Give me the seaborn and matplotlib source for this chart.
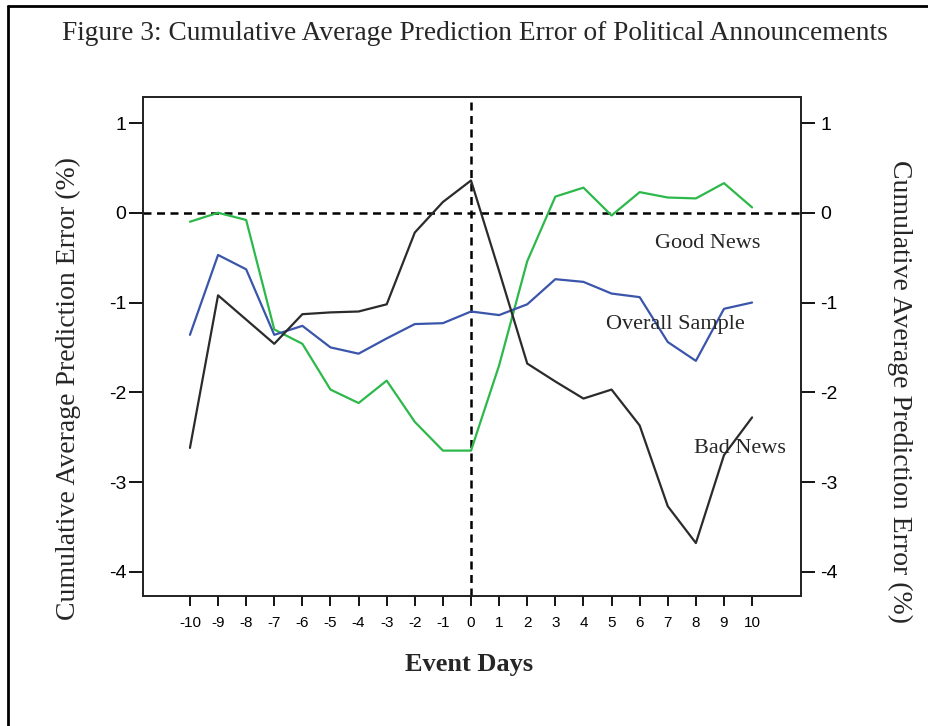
import numpy as np
import pandas as pd
import matplotlib
matplotlib.use("Agg")
import matplotlib.pyplot as plt
from matplotlib.lines import Line2D
import seaborn as sns

# Event window
days = list(range(-10, 11))
day_labels = [str(d) for d in days]

# Cumulative average prediction error (%) by group
good_news = [-0.10, 0.00, -0.08, -1.30, -1.46, -1.97, -2.12, -1.87, -2.33, -2.65, -2.65,
             -1.70, -0.54, 0.18, 0.28, -0.03, 0.23, 0.17, 0.16, 0.33, 0.06]
overall_sample = [-1.36, -0.47, -0.63, -1.36, -1.26, -1.50, -1.57, -1.40, -1.24, -1.23, -1.10,
                  -1.14, -1.02, -0.74, -0.77, -0.90, -0.94, -1.44, -1.65, -1.07, -1.00]
bad_news = [-2.62, -0.92, -1.19, -1.46, -1.13, -1.11, -1.10, -1.02, -0.22, 0.12, 0.36,
            -0.65, -1.68, -1.88, -2.07, -1.97, -2.37, -3.27, -3.68, -2.70, -2.28]

y_ticks = [-4, -3, -2, -1, 0, 1]

groups = ["Good News", "Overall Sample", "Bad News"]
df = pd.DataFrame({
    "day": days * 3,
    "car": good_news + overall_sample + bad_news,
    "group": [g for g in groups for _ in days],
})
palette = {"Good News": "#2db84a", "Overall Sample": "#3a55aa", "Bad News": "#2b2b2b"}

sns.set_style("ticks")
plt.rcParams["font.family"] = ["Liberation Serif", "DejaVu Serif"]

W, H = 929, 726
fig = plt.figure(figsize=(W / 100, H / 100), dpi=100)
ax = fig.add_axes([143 / W, 1 - 596 / H, (801 - 143) / W, (596 - 97) / H])

sns.lineplot(data=df, x="day", y="car", hue="group", palette=palette,
             linewidth=1.6, legend=False, ax=ax)

ax.axhline(0, color="black", linestyle=(0, (3.2, 2.2)), linewidth=1.8, zorder=1)
ax.axvline(0, color="black", linestyle=(0, (3.2, 2.2)), linewidth=1.8, zorder=1)

ax.set_xlim(-11.67, 11.74)
ax.set_ylim(-4.27, 1.29)
ax.set_xticks(days)
ax.set_xticklabels(day_labels, family="Liberation Sans", fontsize=11)
ax.set_yticks(y_ticks)
ax.set_yticklabels([str(t) for t in y_ticks], family="Liberation Sans", fontsize=14)
ax.tick_params(axis="x", direction="out", length=7.5, width=1.3, colors="black", pad=7)
ax.tick_params(axis="y", direction="out", length=10, width=1.3, colors="black", pad=2)
for s in ax.spines.values():
    s.set_linewidth(1.2)
    s.set_color("black")
    s.set_visible(True)
ax.set_xlabel("")
ax.set_ylabel("")

ax2 = ax.twinx()
ax2.set_ylim(ax.get_ylim())
ax2.set_yticks(y_ticks)
ax2.set_yticklabels([str(t) for t in y_ticks], family="Liberation Sans", fontsize=14)
ax2.tick_params(axis="y", direction="out", length=10, width=1.3, colors="black", pad=4)
for s in ax2.spines.values():
    s.set_linewidth(1.2)

ylab = "Cumulative Average Prediction Error (%)"
fig.text(68 / W, 1 - 389 / H, ylab, fontsize=20, rotation=90, ha="center", va="center")
fig.text(900 / W, 1 - 392 / H, ylab, fontsize=20, rotation=270, ha="center", va="center")
fig.text(469 / W, 1 - 665 / H, "Event Days", fontsize=19, fontweight="bold",
         ha="center", va="center")

ax.text(8.43, -0.34, "Good News", fontsize=16, ha="center", va="center")
ax.text(7.26, -1.24, "Overall Sample", fontsize=16, ha="center", va="center")
ax.text(9.57, -2.63, "Bad News", fontsize=16, ha="center", va="center")

fig.text(62 / W, 1 - 33 / H,
         "Figure 3: Cumulative Average Prediction Error of Political Announcements",
         fontsize=19.7, ha="left", va="center")

# Page frame around the figure
fig.add_artist(Line2D([8 / W, 8 / W], [1 - 6 / H, 0], color="black",
                      linewidth=2, transform=fig.transFigure))
fig.add_artist(Line2D([8 / W, 1], [1 - 6 / H, 1 - 6 / H], color="black",
                      linewidth=2, transform=fig.transFigure))

fig.savefig("out.png", dpi=100, facecolor="white")
